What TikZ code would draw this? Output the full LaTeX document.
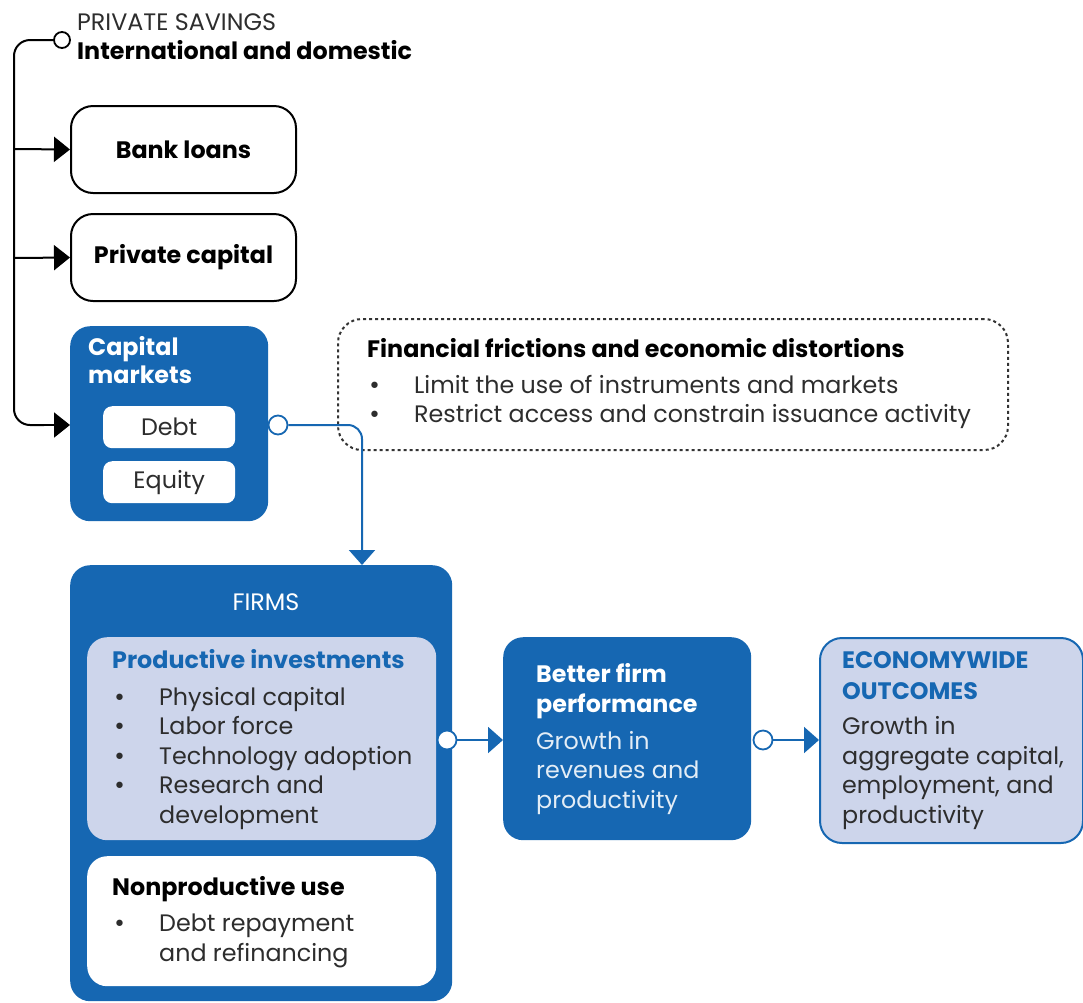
\documentclass[tikz,border=0pt]{standalone}
\usepackage{fontspec}
\setmainfont{Poppins}
\newfontfamily\symfont{DejaVu Sans}
\usetikzlibrary{arrows.meta}

\definecolor{wbblue}{RGB}{22,103,178}
\definecolor{paleblue}{RGB}{205,213,235}
\definecolor{inkgray}{RGB}{45,45,45}

\newcommand{\bodysize}{\fontsize{23.8}{29.4}\selectfont}
\newcommand{\bul}{\makebox[47pt][l]{\hspace{1pt}{\symfont\fontsize{22}{22}\selectfont •}}}
\newcommand{\ind}{\hspace*{47pt}}

\tikzset{
  outlinebox/.style={draw=black, line width=2pt, rounded corners=22pt, fill=white,
    anchor=north west, inner sep=0pt, font=\bodysize\bfseries, text=black},
  bluebox/.style={fill=wbblue, draw=none, rounded corners=20pt, anchor=north west, inner sep=0pt},
  palebox/.style={fill=paleblue, draw=none, rounded corners=20pt, anchor=north west, inner sep=0pt},
  whitebox/.style={fill=white, draw=none, rounded corners=20pt, anchor=north west, inner sep=0pt},
  pill/.style={fill=white, draw=none, rounded corners=9pt, anchor=north west, inner sep=0pt,
    font=\bodysize, text=inkgray},
  % multi-line labels are placed by the baseline of their last line
  label/.style={anchor=base west, inner sep=0pt, align=left, font=\bodysize},
  knob/.style={circle, draw=wbblue, line width=1.8pt, fill=white, minimum size=19pt, inner sep=0pt},
  knobk/.style={circle, draw=black, line width=1.8pt, fill=white, minimum size=16pt, inner sep=0pt},
  feed/.style={draw=black, line width=2pt, -{Triangle[length=16pt,width=25pt]}},
  flow/.style={draw=wbblue, line width=2pt, -{Triangle[length=15pt,width=26pt]}},
}

\begin{document}
\begin{tikzpicture}[x=1pt,y=-1pt]
\useasboundingbox (0,0) rectangle (1083,1002);

% ---------- sources of private savings ----------
\node[knobk] (ps) at (62,40) {};
\node[label, text=inkgray] (pstitle) at (77,30) {PRIVATE SAVINGS};
\node[label, font=\bodysize\bfseries] (pssub) at (77,59) {International and domestic};

\node[outlinebox, minimum width=225pt, minimum height=87pt] (bank) at (70,105) {Bank loans};
\node[outlinebox, minimum width=225pt, minimum height=87pt] (pcap) at (70,213) {Private capital};

\node[bluebox, minimum width=198pt, minimum height=195pt] (cm) at (70,326) {};
\node[label, text=white, font=\fontsize{23.8}{28}\selectfont\bfseries] (cmtitle) at (88,383)
  {Capital\\markets};
\node[pill, minimum width=132pt, minimum height=42pt] (debt) at (103,406) {Debt};
\node[pill, minimum width=132pt, minimum height=42pt] (equity) at (103,461) {Equity};

% bus from savings to every channel
\coordinate (bustop) at (14,40);
\coordinate (busbot) at (14,425);
\coordinate (tapbank) at (14,149);
\coordinate (tappcap) at (14,258);
\coordinate (busend) at (44,425);
\draw[black, line width=2pt, rounded corners=16pt] (ps.west) -- (bustop) -- (busbot) -- (busend);
\draw[feed] (busend) -- (cm.west |- busbot);
\draw[feed] (tapbank) -- (bank.west);
\draw[feed] (tappcap) -- (pcap.west);

% ---------- frictions ----------
\node[draw=black!80, line width=2pt, dash pattern=on 3pt off 3pt, rounded corners=24pt,
  anchor=north west, minimum width=670pt, minimum height=131pt, inner sep=0pt] (fric) at (337,318) {};
\node[label, font=\bodysize\bfseries] (frictitle) at (367,357)
  {Financial frictions and economic distortions};
\node[label, text=inkgray, font=\fontsize{23.8}{29}\selectfont] (fricitems) at (367,422)
  {\bul Limit the use of instruments and markets\\
   \bul Restrict access and constrain issuance activity};

% ---------- firms ----------
\node[bluebox, minimum width=382pt, minimum height=436pt] (firms) at (70,565) {};
\node[anchor=base, inner sep=0pt, font=\bodysize, text=white] (firmstitle) at (266,610) {FIRMS};

\node[palebox, minimum width=349pt, minimum height=203pt] (prod) at (87,637) {};
\node[label, text=wbblue, font=\bodysize\bfseries] (prodtitle) at (112,668) {Productive investments};
\node[label, text=inkgray] (proditems) at (112,823)
  {\bul Physical capital\\
   \bul Labor force\\
   \bul Technology adoption\\
   \bul Research and\\
   \ind development};

\node[whitebox, minimum width=349pt, minimum height=130pt] (nonprod) at (87,856) {};
\node[label, font=\bodysize\bfseries] (nonprodtitle) at (112,895) {Nonproductive use};
\node[label, text=inkgray] (nonproditems) at (112,961)
  {\bul Debt repayment\\
   \ind and refinancing};

% ---------- performance and outcomes ----------
\node[bluebox, minimum width=248pt, minimum height=203pt] (perf) at (503,637) {};
\node[label, text=white, font=\bodysize\bfseries] (perftitle) at (536,712)
  {Better firm\\performance};
\node[label, text=white!88!wbblue] (perftext) at (536,808)
  {Growth in\\revenues and\\productivity};

\node[fill=paleblue, draw=wbblue, line width=2pt, rounded corners=22pt, anchor=north west,
  inner sep=0pt, minimum width=263pt, minimum height=205pt] (econ) at (819,637) {};
\node[label, text=wbblue, font=\fontsize{23.8}{30.5}\selectfont\bfseries] (econtitle) at (842,699)
  {ECONOMYWIDE\\OUTCOMES};
\node[label, text=inkgray] (econtext) at (842,823)
  {Growth in\\aggregate capital,\\employment, and\\productivity};

% ---------- flows ----------
\node[knob] (cmout) at (278,425) {};
\node[knob] (firmsout) at (447,740) {};
\node[knob] (perfout) at (763,740) {};
\coordinate (firmsin) at (362,565);
\draw[flow, rounded corners=14pt] (cmout.east) -- (firmsin |- cmout) -- (firmsin);
\draw[flow] (firmsout.east) -- (perf.west |- firmsout);
\draw[flow] (perfout.east) -- (econ.west |- perfout);
\end{tikzpicture}
\end{document}
